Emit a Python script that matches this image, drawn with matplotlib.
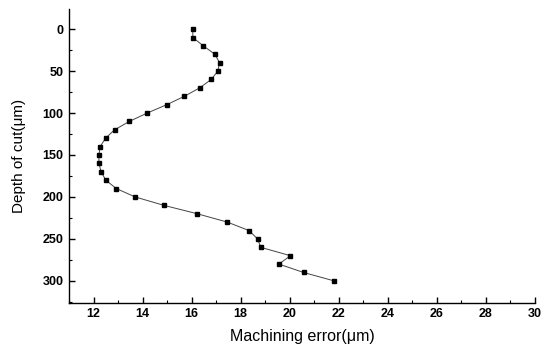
import matplotlib

matplotlib.use("Agg")
import matplotlib.pyplot as plt
from matplotlib.ticker import MultipleLocator

# machining error (um) vs depth of cut (um)
depth = [0, 10, 20, 30, 40, 50, 60, 70, 80, 90, 100, 110, 120, 130, 140, 150,
         160, 170, 180, 190, 200, 210, 220, 230, 240, 250, 260, 270, 280, 290, 300]
error = [16.05, 16.05, 16.48, 16.95, 17.14, 17.07, 16.80, 16.33, 15.71, 14.99,
         14.19, 13.46, 12.86, 12.49, 12.27, 12.22, 12.22, 12.31, 12.50, 12.93,
         13.70, 14.87, 16.23, 17.46, 18.34, 18.69, 18.82, 20.03, 19.56, 20.57, 21.81]

plt.rcParams["font.family"] = ["Liberation Sans", "DejaVu Sans"]

fig = plt.figure(figsize=(5.52, 3.45), dpi=100)
ax = fig.add_axes([0.125, 0.1226, 0.844, 0.8514])

ax.plot(error, depth, color="#444444", lw=0.7, marker="s", ms=3.0,
        mfc="black", mec="black")

ax.set_xlim(11, 30)
ax.set_ylim(326, -24)
ax.set_xticks(range(12, 31, 2))
ax.xaxis.set_minor_locator(MultipleLocator(1))
ax.yaxis.set_major_locator(MultipleLocator(50))
ax.yaxis.set_minor_locator(MultipleLocator(25))

for s in ("top", "right"):
    ax.spines[s].set_visible(False)
for s in ("left", "bottom"):
    ax.spines[s].set_linewidth(1.0)

ax.tick_params(which="major", direction="in", length=4, width=1.0,
               labelsize=9, pad=4)
ax.tick_params(which="minor", direction="in", length=2, width=0.8)
for lab in ax.get_xticklabels() + ax.get_yticklabels():
    lab.set_fontweight("bold")

ax.set_xlabel("Machining error(\u03bcm)", fontsize=11.5, labelpad=6)
ax.set_ylabel("Depth of cut(\u03bcm)", fontsize=11, labelpad=12)

fig.savefig("out.png", dpi=100, facecolor="white")
